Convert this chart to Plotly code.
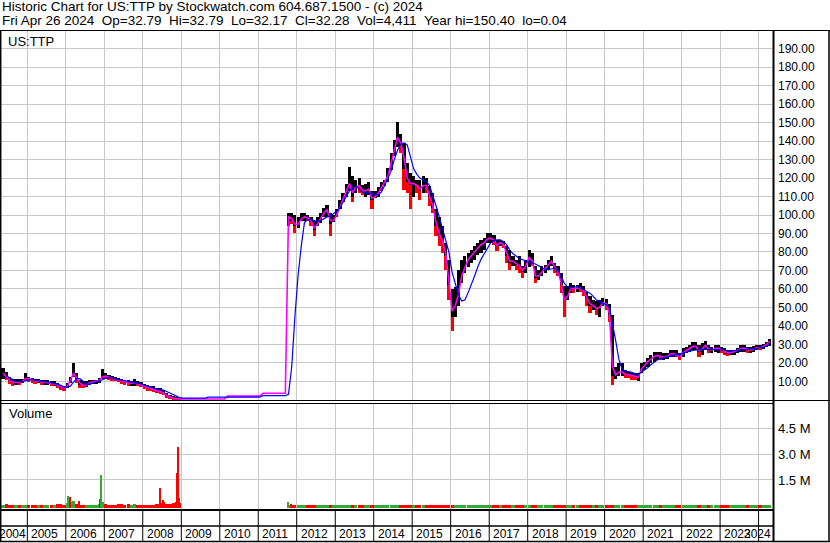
import pandas as pd
import plotly.graph_objects as go

N = None

# monthly samples, May 2004 .. Apr 2024
# (no trading from Jan 2009 to Sep 2011)
price_high = [
    17, 15, 12.6, 11, 11, 11, 11.5, 14.4,  # 2004 May-Dec
    12.6, 12, 11, 11, 10.8, 10.8, 10.5, 9.9, 9.9, 9, 8.1, 7.5,
    9, 12.6, 19.8, 14.4, 10.8, 9.9, 9.9, 10.8, 10.8, 10.8, 11.7, 16.8,
    14.4, 13.5, 13, 12.2, 11.7, 11, 10.8, 10.8, 10.4, 11.2, 9.9, 9.4,
    8.7, 8.1, 7.5, 7.2, 6.3, 6.3, 5.4, 3.6, 2.7, 1.8, 1.4, 1.0,
    *[N] * 12, *[N] * 12, *[N] * 9, 101, 101, 100,
    99, 101, 101, 100, 99, 97, 99, 101, 104, 105.5, 101, 100,
    103, 108, 112, 117, 126, 121, 119, 120, 116, 117, 118, 113,
    113, 115, 118, 119, 125.5, 133.6, 140.8, 150.4, 144, 139, 128, 122.7,
    121, 119, 119, 121, 120, 115.5, 112, 103, 99, 94, 84.8, 75.8,
    60, 61, 70, 75.8, 77.6, 79.4, 81, 83, 84.8, 86.6, 87.5, 90.2,
    90.2, 89.3, 86.6, 86.6, 85.7, 83, 81.2, 77.6, 75.8, 77.6, 72.2, 75.8,
    81.2, 79.4, 72.2, 70.4, 72.2, 73, 75.8, 77.6, 74, 72.2, 68.6, 61.4,
    61.4, 63.2, 62.3, 62.3, 63.2, 61.4, 58.6, 56, 54, 53.2, 54, 55,
    54.5, 52, 46, 18, 19.8, 19.8, 16, 15.3, 15.3, 14.4, 14.4, 19.8,
    20.7, 22.5, 24.3, 26, 26, 26, 25.2, 25.2, 27, 27, 27, 25.2,
    28, 28.8, 29.7, 31.5, 31.5, 29.7, 30.6, 32, 29.7, 28.8, 29.7, 29.7,
    28.8, 28, 27, 27, 27, 28, 29.7, 29.7, 28.8, 28.8, 29, 29.7,
    29.7, 30.2, 31.5, 32.8,  # 2024 Jan-Apr
]
price_low = [
    11, 11, 9, 7.5, 8, 8, 9, 10,
    10, 9.5, 9, 9, 8.5, 8.2, 8.2, 7.5, 7.2, 6.3, 5.4, 4.8,
    6.3, 9, 12.6, 9, 6.3, 6.3, 6.8, 8.1, 8.5, 8.7, 9, 11,
    11.2, 10.8, 10.5, 9.9, 9.4, 9, 8.1, 7.6, 7.6, 7.6, 7.2, 6.8,
    5.8, 5, 4.5, 4, 3.6, 3.2, 2.7, 1.4, 0.5, 0.4, 0.2, 0.04,
    *[N] * 12, *[N] * 12, *[N] * 9, 94, 95, 90,
    93, 96.5, 97, 96.5, 94, 88.5, 94, 95.6, 99, 99, 88.5, 96,
    99, 103, 107, 110, 113, 107, 112, 112, 111, 110, 111, 103,
    109, 110, 113, 115.5, 118, 124.6, 131.8, 137, 133.6, 113.7, 112, 103,
    110, 112, 108, 112, 112, 104.7, 101, 88.4, 83, 79.4, 70.4, 54,
    37, 45, 50.5, 63, 68.6, 72, 74, 75.8, 78.5, 79.4, 81.2, 84.8,
    84.8, 84, 80.3, 83, 82, 74, 70.4, 72.2, 70.4, 68.6, 66, 68.6,
    72, 72.2, 63, 65, 66.8, 68.6, 70.4, 72.2, 68.6, 66.8, 57.7, 45,
    54, 57.7, 57.7, 58.6, 58.6, 56, 50.5, 47, 48.7, 46, 45, 50.5,
    48.5, 42, 8.2, 11, 12.7, 12.7, 11.8, 11.8, 10.8, 10.8, 10, 14.4,
    16.2, 18, 19.8, 20.7, 21.6, 21.6, 21.6, 22, 23, 23.4, 23.4, 21.6,
    23.4, 25.2, 26, 27, 27, 23.4, 24.3, 27, 25.2, 25.2, 26, 25.2,
    25.2, 24.3, 23.8, 24.3, 24.3, 25.2, 26, 26, 25.5, 25.2, 26, 27,
    27, 27.3, 28.4, 29.1,
]
price_close = [
    13, 12, 10, 9, 10, 9.5, 10.5, 12,
    11, 10.5, 10, 10, 9.5, 9.5, 9.5, 8.5, 8.5, 7.5, 6.5, 6,
    8, 11, 15, 11, 8, 7.5, 8, 9.5, 9.5, 10, 10.5, 13,
    12.5, 12, 11.5, 11, 10.5, 10, 9.5, 9, 9, 9.5, 8.5, 8,
    7, 6.5, 6, 5.5, 5, 4.5, 3.5, 2, 1.2, 0.8, 0.5, 0.3,
    *[N] * 12, *[N] * 12, *[N] * 9, 98, 97, 94,
    96, 99, 99, 98, 96, 92, 97, 99, 102, 103, 95, 98,
    101, 106, 110, 113, 118, 110, 116, 115, 113, 113, 114, 108,
    111, 113, 116, 118, 122, 130, 137, 143, 138, 125, 118, 116,
    117, 116, 113, 117, 115, 110, 104, 94, 89, 86, 78, 62,
    45, 52, 58, 68, 72, 76, 78, 80, 82, 84, 85, 87,
    88, 86, 83, 85, 84, 78, 74, 75, 73, 72, 69, 73,
    77, 74, 66, 67, 69, 71, 73, 75, 71, 69, 62, 54,
    58, 61, 60, 61, 60, 59, 55, 51, 51, 49, 50, 53,
    52, 46, 13, 14, 15, 15, 14, 13.5, 13, 12.5, 12.5, 17,
    19, 21, 22, 23.5, 24, 23, 23, 23.5, 25, 25, 24, 23,
    26, 27, 28, 29, 29, 26, 28, 30, 27, 27, 28, 28,
    27, 26, 25, 25.5, 26, 27, 28, 28, 27, 27, 27.5, 28.5,
    28, 29, 30, 32.3,
]
ma_fast = [
    14.5, 12.5, 10.5, 9.5, 9.5, 9.5, 10, 11.5,
    11.5, 10.8, 10.3, 10, 9.7, 9.5, 9.4, 8.8, 8.5, 7.8, 6.8, 6.2,
    7.5, 10.5, 14.5, 12, 9, 7.8, 8, 9.2, 9.5, 9.8, 10.5, 12.5,
    12.8, 12.2, 11.7, 11.2, 10.7, 10.2, 9.6, 9.2, 9, 9.3, 8.7, 8.2,
    7.3, 6.7, 6.1, 5.6, 5.1, 4.6, 3.8, 2.3, 1.4, 0.9, 0.6, 0.4,
    *[0.4] * 12,
    0.4, 0.4, *[2.0] * 10,
    2.0, *[3.5] * 8, 99, 98, 95,
    95, 98, 99, 98.5, 97, 93, 95, 98, 101, 103, 97, 97,
    100, 104.5, 108.5, 112, 117, 112, 115, 116, 113.5, 113, 114, 109,
    110, 112, 115, 117.5, 121, 128, 135.5, 142, 139, 131, 120, 117,
    117, 116, 114, 116, 116, 111, 105, 96, 90, 86, 79, 64,
    48, 51, 57, 67, 72, 76, 78, 80, 82, 84, 85, 87,
    87.5, 86.5, 83.5, 85, 84, 79, 75, 75, 73.5, 72.5, 70, 72.5,
    77, 75, 67, 67, 69, 71, 73, 75, 72, 69.5, 63, 54,
    56, 60.5, 60, 60.5, 60.5, 59, 55.5, 52, 51, 49.5, 50, 52.5,
    52, 47, 18, 13.5, 15, 15, 14, 13.7, 13.2, 12.7, 12.3, 16.5,
    18.8, 20.8, 22, 23.4, 24, 23.4, 23, 23.5, 24.8, 25, 24.3, 23.2,
    25.5, 26.8, 27.8, 28.8, 29, 26.5, 27.5, 29.5, 27.5, 27, 27.8, 27.8,
    27, 26.2, 25.3, 25.5, 26, 26.8, 27.8, 28, 27.3, 27, 27.5, 28.3,
    28.1, 28.8, 29.8, 31.8,
]
ma_slow = [
    N, 13, 12, 11, 10, 9.8, 9.8, 10.3,
    10.8, 10.8, 10.5, 10.2, 10, 9.8, 9.6, 9.3, 9, 8.5, 7.8, 7,
    6.8, 7.5, 9.5, 11.5, 11.5, 10, 8.5, 8.5, 9, 9.5, 10, 10.8,
    11.8, 12, 11.8, 11.3, 11, 10.6, 10.2, 9.8, 9.4, 9.2, 9, 8.6,
    8, 7.4, 6.8, 6.3, 5.9, 5.6, 5.3, 4.5, 3.6, 2.6, 1.8, 1.2,
    *[0.9] * 8, *[1.4] * 4,
    *[1.4] * 12,
    1.4, *[2.2] * 8, 3, 18, 45,
    68, 84, 96, 97.5, 97.5, 97, 96.5, 97, 98, 99, 99.5, 100.5,
    102, 104, 107, 110, 113, 114.5, 115.5, 114, 112.5, 112, 112, 111.5,
    111, 111, 112.5, 116, 119.5, 124, 130, 135, 138.5, 139, 138, 132,
    125, 122, 120, 119, 118, 116, 111, 105, 99, 93, 87, 80,
    69, 62, 57, 53.5, 54, 58, 62, 67, 72, 76, 79, 82,
    85, 86, 86.6, 86.5, 85.7, 84, 81, 79, 77.6, 76.5, 75.8, 75,
    74.5, 74, 73.5, 72.5, 71.5, 70.5, 70.4, 71, 71.3, 70, 67, 63,
    61, 60.5, 61, 61.4, 60.5, 59.6, 58.5, 57.7, 56, 54, 53, 52.3,
    51.5, 50, 42, 32, 22, 16.5, 15.3, 15.3, 14.8, 14, 13.5, 15,
    16.2, 17.5, 19, 20.5, 21.6, 22.3, 22.8, 23, 23.5, 24, 24.3, 24.8,
    25.3, 26, 26.3, 26.7, 27, 27.2, 27.3, 27.3, 27.3, 27.3, 27.3, 27.2,
    27, 26.8, 26.6, 26.6, 26.6, 26.6, 26.7, 27, 27.2, 27.3, 27.6, 27.9,
    28.2, 28.5, 29.2, 30,
]
# typical daily volume in each month, millions of shares
volume_m = [
    0.06, 0.1, 0.05, 0.04, 0.05, 0.04, 0.05, 0.06,
    0.04, 0.03, 0.03, 0.04, 0.03, 0.04, 0.05, 0.03, 0.06, 0.08, 0.1, 0.06,
    0.12, 0.2, 0.25, 0.1, 0.06, 0.05, 0.04, 0.04, 0.05, 0.06, 0.1, 0.2,
    0.1, 0.06, 0.05, 0.06, 0.1, 0.08, 0.06, 0.08, 0.06, 0.08, 0.05, 0.05,
    0.05, 0.04, 0.05, 0.06, 0.08, 0.12, 0.2, 0.1, 0.08, 0.12, 0.2, 0.15,
    *[N] * 12, *[N] * 12, *[N] * 9, 0.03, 0.02, 0.02,
    0.01, 0.01, 0.02, 0.01, 0.01, 0.02, 0.01, 0.01, 0.01, 0.02, 0.01, 0.01,
    0.01, 0.01, 0.02, 0.01, 0.02, 0.02, 0.01, 0.01, 0.01, 0.01, 0.01, 0.01,
    0.01, 0.01, 0.01, 0.01, 0.02, 0.01, 0.01, 0.02, 0.01, 0.01, 0.02, 0.01,
    0.06, 0.02, 0.01, 0.01, 0.01, 0.02, 0.02, 0.03, 0.02, 0.02, 0.02, 0.05,
    0.02, 0.02, 0.01, 0.01, 0.01, 0.01, 0.01, 0.01, 0.02, 0.05, 0.01, 0.01,
    0.01, 0.01, 0.01, 0.01, 0.01, 0.01, 0.01, 0.01, 0.01, 0.01, 0.05, 0.01,
    0.01, 0.01, 0.01, 0.01, 0.01, 0.01, 0.01, 0.01, 0.01, 0.01, 0.05, 0.02,
    0.01, 0.01, 0.01, 0.01, 0.02, 0.01, 0.01, 0.05, 0.02, 0.03, 0.02, 0.03,
    0.04, 0.06, 0.03, 0.02, 0.02, 0.02, 0.03, 0.02, 0.06, 0.02, 0.01, 0.01,
    0.01, 0.01, 0.01, 0.01, 0.01, 0.01, 0.01, 0.01, 0.01, 0.01, 0.01, 0.01,
    0.01, 0.01, 0.01, 0.01, 0.01, 0.01, 0.01, 0.01, 0.01, 0.01, 0.01, 0.01,
    0.01, 0.01, 0.01, 0.01, 0.01, 0.01, 0.01, 0.01, 0.01, 0.01, 0.01, 0.01,
    0.01, 0.01, 0.01, 0.01,
]
# single heavy days
spike_dates = ["2006-01-25", "2006-02-12", "2006-05-08", "2006-11-18", "2006-11-28",
               "2008-06-18", "2008-07-15", "2008-11-20", "2008-12-05", "2008-12-12",
               "2011-10-08", "2011-11-10"]
spike_vol_m = [0.55, 0.5, 0.28, 0.4, 1.75, 1.0, 0.3, 1.88, 3.4, 0.45, 0.23, 0.1]
spike_up = [True, False, False, False, True, False, False, False, False, False, True, False]

years = list(range(2004, 2025))
price_ticks = list(range(10, 200, 10))
volume_ticks = [1.5, 3.0, 4.5]

HEADER_1 = "Historic Chart for US:TTP by Stockwatch.com 604.687.1500 - (c) 2024"
HEADER_2 = ("Fri Apr 26 2024 \u00a0Op=32.79 \u00a0Hi=32.79 \u00a0Lo=32.17 \u00a0Cl=32.28"
            " \u00a0Vol=4,411 \u00a0Year hi=150.40 \u00a0lo=0.04")

months = pd.date_range("2004-05-01", "2024-04-01", freq="MS") + pd.Timedelta(days=14)
for arr in (price_high, price_low, price_close, ma_fast, ma_slow, volume_m):
    assert len(arr) == len(months), len(arr)

X_START, X_END = pd.Timestamp("2004-04-25 21:00"), pd.Timestamp("2024-05-26 10:00")
PLOT_L, PLOT_R, PLOT_T, PLOT_B = 1, 774, 31, 509
VOL_FLOOR = -0.12
FONT = "Liberation Sans, Arial, sans-serif"
GRID = "#c8c8c8"
GREEN, RED = "#33aa33", "#ff0000"
DAY_MS = 86400000


def px_x(X):
    return (X - PLOT_L) / (PLOT_R - PLOT_L)


def px_y(Y):
    return (PLOT_B - Y) / (PLOT_B - PLOT_T)


def date_x(d):
    return (pd.Timestamp(d) - X_START) / (X_END - X_START)


# up / down against the previous close
is_up = []
prev = None
for c in price_close:
    is_up.append(c is not None and (prev is None or c >= prev))
    if c is not None:
        prev = c

fig = go.Figure()
# full monthly range in black, the lower part of falling months in red
fig.add_trace(go.Bar(
    x=months, base=price_low,
    y=[None if h is None else h - l for h, l in zip(price_high, price_low)],
    width=30 * DAY_MS, marker=dict(color="#000000", line_width=0),
    xaxis="x", yaxis="y",
))
fig.add_trace(go.Bar(
    x=months, base=price_low,
    y=[None if (c is None or u) else c - l for c, l, u in zip(price_close, price_low, is_up)],
    width=30 * DAY_MS, marker=dict(color=RED, line_width=0),
    xaxis="x", yaxis="y",
))
fig.add_trace(go.Scatter(x=months, y=ma_fast, mode="lines",
                         line=dict(color="#ff00ff", width=1.6), xaxis="x", yaxis="y"))
fig.add_trace(go.Scatter(x=months, y=ma_slow, mode="lines",
                         line=dict(color="#0000ff", width=1.2), xaxis="x", yaxis="y"))
fig.add_trace(go.Bar(
    x=months, base=VOL_FLOOR,
    y=[None if v is None else v - VOL_FLOOR for v in volume_m],
    width=30 * DAY_MS,
    marker=dict(color=[GREEN if u else RED for u in is_up], line_width=0),
    xaxis="x2", yaxis="y2",
))
fig.add_trace(go.Bar(
    x=pd.to_datetime(spike_dates), base=VOL_FLOOR,
    y=[v - VOL_FLOOR for v in spike_vol_m],
    width=12 * DAY_MS,
    marker=dict(color=[GREEN if u else RED for u in spike_up], line_width=0),
    xaxis="x2", yaxis="y2",
))

xcommon = dict(type="date", range=[X_START, X_END], showgrid=True, gridcolor=GRID, gridwidth=1,
               tick0="2005-01-01", dtick="M12", showticklabels=False, zeroline=False,
               showline=False, ticks="")
ycommon = dict(side="right", showgrid=True, gridcolor=GRID, gridwidth=1, zeroline=False,
               showline=False, ticks="", ticklabelstandoff=3)

shapes = []


def line(X0, Y0, X1, Y1, w=1):
    shapes.append(dict(type="line", xref="paper", yref="paper",
                       x0=px_x(X0), y0=px_y(Y0), x1=px_x(X1), y1=px_y(Y1),
                       line=dict(color="black", width=w)))


line(0, 30.5, 830, 30.5)
line(0.7, 30.5, 0.7, 541.5, 1.5)
line(773.5, 30.5, 773.5, 541.5, 2)
line(829, 30.5, 829, 541.5, 1.5)
line(0, 400.5, 830, 400.5)
line(0, 403.5, 774, 403.5)
line(0, 510, 774, 510, 2)
line(0, 526, 774, 526, 1.5)
line(0, 541.5, 830, 541.5, 1.5)
for yr in years[1:]:
    xp = date_x(f"{yr}-01-01")
    shapes.append(dict(type="line", xref="paper", yref="paper", x0=xp, x1=xp,
                       y0=px_y(510), y1=px_y(541.5), line=dict(color="black", width=1)))

annotations = []


def label(text, X, Y, size, anchor="left", shift=0):
    annotations.append(dict(text=text, xref="paper", yref="paper", x=X, y=px_y(Y),
                            xanchor=anchor, yanchor="middle", xshift=shift, showarrow=False,
                            font=dict(family=FONT, size=size, color="black")))


label(HEADER_1, px_x(0), 6.5, 13.5)
label(HEADER_2, px_x(0), 20, 13.5)
label("US:TTP", px_x(5.5), 41, 13)
label("Volume", px_x(6.5), 413, 13)
label(str(years[0]), 0, 534, 12, shift=-4)
for yr in years[1:-1]:
    label(str(yr), date_x(f"{yr}-01-01"), 534, 12, shift=2)
label(str(years[-1]), 1, 534, 12, anchor="right", shift=-1)

fig.update_layout(
    width=830, height=543,
    margin=dict(l=PLOT_L, r=830 - PLOT_R, t=PLOT_T, b=543 - PLOT_B, autoexpand=False),
    paper_bgcolor="white", plot_bgcolor="white",
    showlegend=False, barmode="overlay", bargap=0,
    font=dict(family=FONT, size=12, color="black"),
    xaxis=dict(xcommon, anchor="y"),
    xaxis2=dict(xcommon, anchor="y2", matches="x"),
    yaxis=dict(ycommon, domain=[px_y(400.7), 1], range=[-0.5, 199.6],
               tickvals=price_ticks, ticktext=[f"{v:.2f}" for v in price_ticks],
               tickfont=dict(family=FONT, size=12, color="black"), anchor="x"),
    yaxis2=dict(ycommon, domain=[0, px_y(403.3)], range=[-0.183, 5.95],
                tickvals=volume_ticks, ticktext=[f"{v:.1f} M" for v in volume_ticks],
                tickfont=dict(family=FONT, size=13, color="black"), anchor="x2"),
    shapes=shapes, annotations=annotations,
)

# the page is photographed from its top-left corner, so drop the default body margin
fig.write_html("out.html", config={"displayModeBar": False},
               post_script="document.body.style.margin = '0';")
